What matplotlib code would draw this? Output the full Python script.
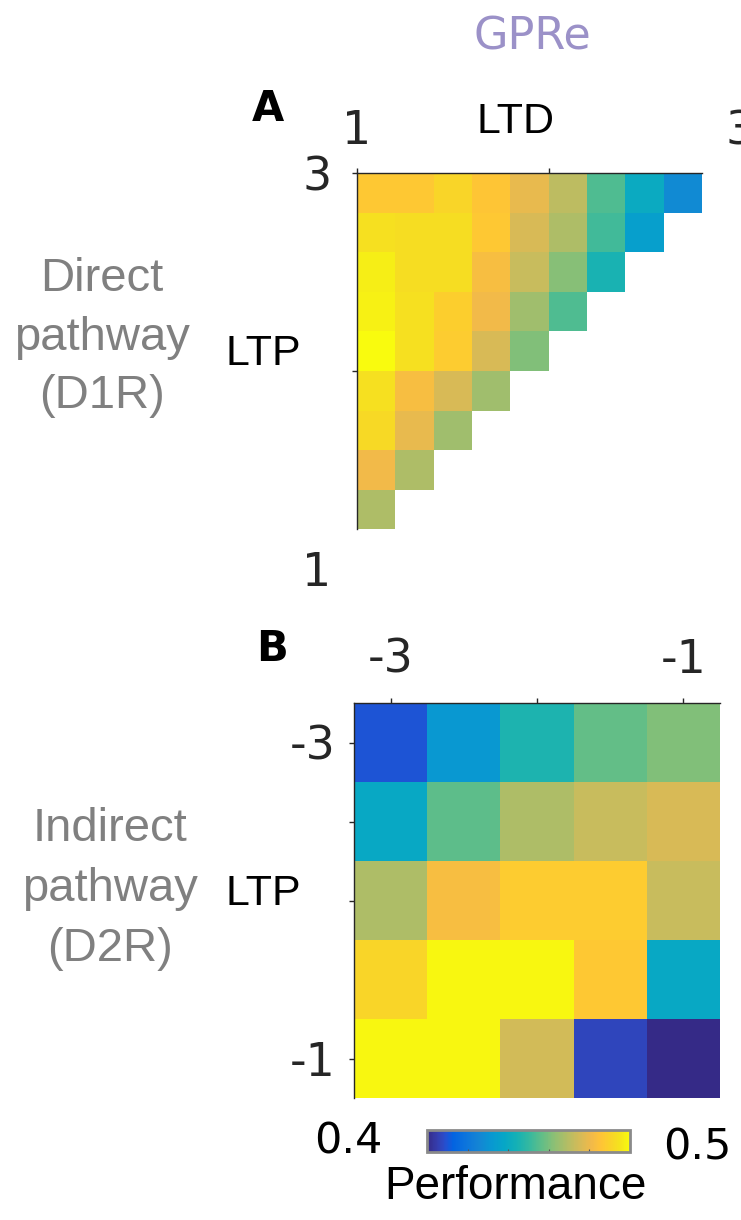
import numpy as np
import matplotlib
matplotlib.use("Agg")
import matplotlib.pyplot as plt
from matplotlib.colors import LinearSegmentedColormap

# parula-like colormap (sampled anchors)
parula_pos = [0, 3, 5, 6, 8, 12, 16, 20, 24, 28, 32, 36, 40, 44, 48, 51, 54, 56, 58, 60, 63]
parula_rgb = [(0.208, 0.166, 0.529), (0.208, 0.239, 0.677), (0.171, 0.292, 0.779),
              (0.125, 0.324, 0.830), (0.012, 0.388, 0.882), (0.050, 0.459, 0.864),
              (0.079, 0.520, 0.831), (0.034, 0.597, 0.820), (0.023, 0.653, 0.777),
              (0.084, 0.693, 0.706), (0.218, 0.725, 0.619), (0.395, 0.746, 0.524),
              (0.571, 0.749, 0.449), (0.718, 0.741, 0.390), (0.851, 0.730, 0.336),
              (0.945, 0.726, 0.289), (0.999, 0.765, 0.216), (0.988, 0.807, 0.179),
              (0.970, 0.848, 0.147), (0.959, 0.895, 0.113), (0.976, 0.983, 0.054)]
parula = LinearSegmentedColormap.from_list(
    "parula", list(zip(np.array(parula_pos) / 63.0, parula_rgb)))

VMIN, VMAX = 0.4, 0.5

# A: direct pathway (D1R), LTD along columns (1 -> 3), LTP along rows (3 -> 1)
d1r_rows = [
    [0.487, 0.487, 0.491, 0.486, 0.479, 0.471, 0.454, 0.440, 0.427],
    [0.494, 0.493, 0.493, 0.487, 0.476, 0.468, 0.452, 0.435],
    [0.497, 0.493, 0.493, 0.483, 0.473, 0.462, 0.445],
    [0.498, 0.494, 0.489, 0.481, 0.466, 0.454],
    [0.500, 0.494, 0.488, 0.476, 0.461],
    [0.494, 0.483, 0.476, 0.466],
    [0.492, 0.479, 0.466],
    [0.481, 0.468],
    [0.468],
]

# B: indirect pathway (D2R), LTD columns / LTP rows from -3 to -1
d2r_ltd = [-3, -2.5, -2, -1.5, -1]
d2r_ltp = [-3, -2.5, -2, -1.5, -1]
d2r_perf = [
    [0.410, 0.432, 0.446, 0.457, 0.461],
    [0.439, 0.456, 0.468, 0.473, 0.476],
    [0.468, 0.483, 0.488, 0.488, 0.473],
    [0.491, 0.499, 0.499, 0.487, 0.439],
    [0.499, 0.499, 0.475, 0.407, 0.400],
]

W, H = 741, 1220
fig = plt.figure(figsize=(W / 100, H / 100), dpi=100)

def fx(px):
    return px / W

def fy(py):
    return 1 - py / H

tick_col = "#262626"
gray = "#808080"
sans = "Liberation Sans"

# ---- panel A
n = len(d1r_rows)
grid = np.full((n, n), np.nan)
for i, row in enumerate(d1r_rows):
    grid[i, :len(row)] = row
axA = fig.add_axes([fx(357), fy(569), fx(740.3 - 357), (569 - 173) / H])
axA.pcolormesh(np.arange(n + 1), np.arange(n + 1), np.ma.masked_invalid(grid),
               cmap=parula, vmin=VMIN, vmax=VMAX, shading="flat", antialiased=False)
axA.set_xlim(0, n + 1)
axA.set_ylim(n + 1, 0)
axA.xaxis.tick_top()
axA.set_xticks([0, 5, 10], ["1", "", "3"])
axA.set_yticks([0, 5, 10], ["3", "", "1"])
for s in ["right", "bottom"]:
    axA.spines[s].set_visible(False)
axA.spines["top"].set_bounds(0, n)
axA.spines["left"].set_bounds(0, n)
axA.tick_params(axis="x", direction="out", length=3.5, width=1, pad=10,
                labelsize=33, colors=tick_col)
axA.tick_params(axis="y", direction="out", length=3.5, width=1, pad=15,
                labelsize=33, colors=tick_col)
# end ticks sit past the spines, only their labels show
axA.xaxis.get_major_ticks()[2].tick2line.set_visible(False)
axA.yaxis.get_major_ticks()[2].tick1line.set_visible(False)
for s in ["top", "left"]:
    axA.spines[s].set_color(tick_col)
    axA.spines[s].set_linewidth(1.0)
axA.patch.set_visible(False)

# ---- panel B
edges_x = np.r_[np.array(d2r_ltd) - 0.25, d2r_ltd[-1] + 0.25]
edges_y = np.r_[np.array(d2r_ltp) - 0.25, d2r_ltp[-1] + 0.25]
axB = fig.add_axes([fx(354), fy(1098), fx(720 - 354), (1098 - 703) / H])
axB.pcolormesh(edges_x, edges_y, np.array(d2r_perf), cmap=parula,
               vmin=VMIN, vmax=VMAX, shading="flat", antialiased=False)
axB.set_xlim(edges_x[0], edges_x[-1])
axB.set_ylim(edges_y[-1], edges_y[0])
axB.xaxis.tick_top()
axB.set_xticks([-3, -2, -1], ["-3", "", "-1"])
axB.set_yticks([-3, -2.5, -2, -1], ["-3", "", "", "-1"])
for s in ["right", "bottom"]:
    axB.spines[s].set_visible(False)
for s in ["top", "left"]:
    axB.spines[s].set_color(tick_col)
    axB.spines[s].set_linewidth(1.0)
axB.tick_params(axis="x", direction="out", length=3.5, width=1, pad=11,
                labelsize=33, colors=tick_col)
axB.tick_params(axis="y", direction="out", length=3.5, width=1, pad=9.5,
                labelsize=33, colors=tick_col)

# ---- colorbar
cax = fig.add_axes([fx(427), fy(1152), fx(630 - 427), 22 / H])
sm = plt.cm.ScalarMappable(cmap=parula, norm=plt.Normalize(VMIN, VMAX))
cb = fig.colorbar(sm, cax=cax, orientation="horizontal")
cb.set_ticks([0.42, 0.44, 0.46, 0.48])
cb.ax.tick_params(direction="in", length=2, width=0.8, labelbottom=False, colors="#555555")
cb.outline.set_edgecolor("#8a8a8a")
cb.outline.set_linewidth(2)

# ---- text
fig.text(fx(532), fy(50), "GPRe", color="#9b91c8", fontsize=32,
         ha="center", va="baseline")
fig.text(fx(268), fy(121), "A", fontsize=30, fontweight="bold",
         ha="center", va="baseline")
fig.text(fx(272), fy(661), "B", fontsize=30, fontweight="bold",
         ha="center", va="baseline")
fig.text(fx(516), fy(133), "LTD", fontsize=31, family=sans,
         ha="center", va="baseline")
fig.text(fx(263), fy(365), "LTP", fontsize=31, family=sans,
         ha="center", va="baseline")
fig.text(fx(263), fy(905), "LTP", fontsize=31, family=sans,
         ha="center", va="baseline")

for word, yb in zip(["Direct", "pathway", "(D1R)"], [291, 350, 408]):
    fig.text(fx(102), fy(yb), word, fontsize=34, family=sans, color=gray,
             ha="center", va="baseline")
for word, yb in zip(["Indirect", "pathway", "(D2R)"], [841, 901, 961]):
    fig.text(fx(110), fy(yb), word, fontsize=34, family=sans, color=gray,
             ha="center", va="baseline")

fig.text(fx(348), fy(1154), "0.4", fontsize=31, ha="center", va="baseline")
fig.text(fx(697), fy(1159), "0.5", fontsize=31, ha="center", va="baseline")
fig.text(fx(515), fy(1199), "Performance", fontsize=33, family=sans,
         ha="center", va="baseline")

fig.savefig("out.png", dpi=100)
